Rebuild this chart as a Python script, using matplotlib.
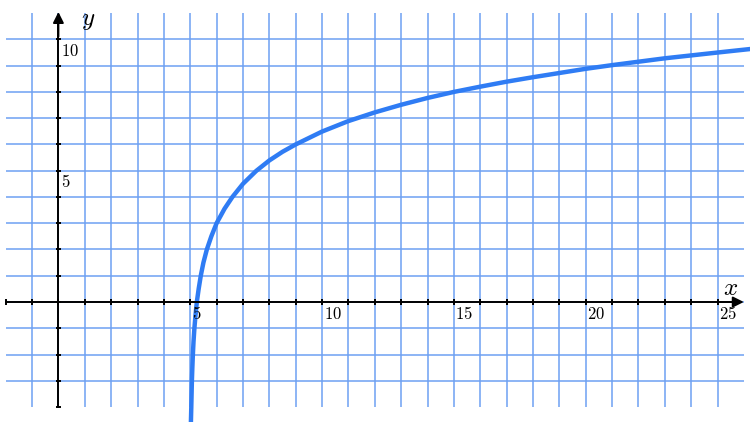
import numpy as np
import matplotlib
matplotlib.use("Agg")
import matplotlib.pyplot as plt

plt.rcParams['mathtext.fontset'] = 'cm'

# points
curve_x = [5.025, 5.04, 5.063, 5.08, 5.1, 5.125, 5.158, 5.2, 5.25, 5.32, 5.4, 5.5, 5.63, 5.8,
           6.0, 6.3, 6.6, 7.0, 7.5, 8.0, 8.5, 9.0, 10, 11, 12, 13, 14, 15, 16, 17, 18,
           19, 20, 21, 22, 23, 24, 25, 26.3]
curve_y = [-4.6, -4.0, -3.0, -2.5, -2.0, -1.5, -1.0, -0.5, 0.0, 0.5, 1.0, 1.5, 2.0, 2.5,
           3.0, 3.55, 4.0, 4.5, 4.99, 5.39, 5.72, 6.0, 6.49, 6.89, 7.22, 7.51, 7.77, 8.0, 8.2, 8.39, 8.56,
           8.72, 8.88, 9.02, 9.15, 9.28, 9.39, 9.5, 9.64]

x_labels = [5, 10, 15, 20, 25]
y_labels = [5, 10]

xmin, xmax = -2, 26
ymin, ymax = -4, 11

grid_color = '#6ea0f2'
curve_color = '#2f7cf4'

fig = plt.figure(figsize=(7.5, 4.22), dpi=100)
ax = fig.add_axes([0, 0, 1, 1])
ax.set_xlim(-2.215, 26.23)
ax.set_ylim(-4.57, 11.5)
ax.axis('off')

# grid
ax.vlines(np.arange(xmin + 1, xmax), ymin, ymax, color=grid_color, lw=1.1, zorder=1)
ax.hlines(np.arange(ymin + 1, ymax), xmin, xmax, color=grid_color, lw=1.1, zorder=1)

# axes with arrows
ax.plot([xmin, 25.6], [0, 0], color='black', lw=1.4, zorder=3)
ax.plot([0, 0], [ymin, 10.6], color='black', lw=1.4, zorder=3)
ax.annotate('', xy=(26.1, 0), xytext=(25.0, 0),
            arrowprops=dict(arrowstyle='-|>', color='black', lw=1.4, mutation_scale=16), zorder=4)
ax.annotate('', xy=(0, 11.15), xytext=(0, 10.0),
            arrowprops=dict(arrowstyle='-|>', color='black', lw=1.4, mutation_scale=16), zorder=4)

# tick marks
ax.vlines(np.arange(xmin, 26), -0.1, 0.1, color='black', lw=1.4, zorder=3)
ax.hlines(np.arange(ymin, 11), -0.11, 0.11, color='black', lw=1.4, zorder=3)

for v in x_labels:
    ax.text(v + 0.06, -0.12, '$%d$' % v, ha='left', va='top', fontsize=12, zorder=5)
for v in y_labels:
    ax.text(0.08, v - 0.1, '$%d$' % v, ha='left', va='top', fontsize=12, zorder=5)

ax.text(25.49, 0.55, '$x$', ha='center', va='center', fontsize=18, zorder=5)
ax.text(1.12, 10.75, '$y$', ha='center', va='center', fontsize=18, zorder=5)

ax.plot(curve_x, curve_y, color=curve_color, lw=3.2, solid_capstyle='butt', zorder=2)

fig.savefig('out.png', dpi=100)
